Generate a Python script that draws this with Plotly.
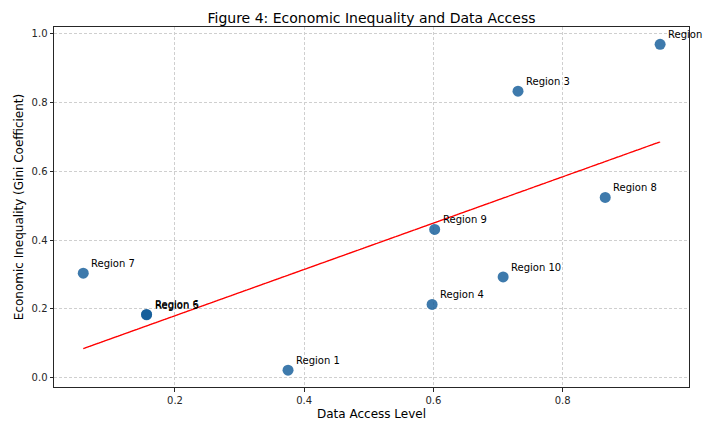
import numpy as np
import plotly.graph_objects as go

regions = ["Region 1", "Region 2", "Region 3", "Region 4", "Region 5",
           "Region 6", "Region 7", "Region 8", "Region 9", "Region 10"]
data_access = [0.375, 0.951, 0.731, 0.598, 0.156, 0.156, 0.058, 0.866, 0.602, 0.708]
gini = [0.022, 0.969, 0.833, 0.213, 0.183, 0.184, 0.304, 0.524, 0.431, 0.293]

font = "DejaVu Sans"

# least-squares trend line through the points
slope, intercept = np.polyfit(data_access, gini, 1)
x_arr = np.array(data_access)
trend = slope * x_arr + intercept

fig = go.Figure()
fig.add_trace(go.Scatter(
    x=data_access, y=gini, mode="markers",
    marker=dict(size=11, color="#0e5997", opacity=0.8, line=dict(width=0)),
    showlegend=False, hoverinfo="x+y",
))
fig.add_trace(go.Scatter(
    x=x_arr, y=trend, mode="lines",
    line=dict(color="red", width=1.3, dash="4px,1px"),
    showlegend=False, hoverinfo="skip",
))

for name, xv, yv in zip(regions, data_access, gini):
    fig.add_annotation(
        x=xv, y=yv, text=name, showarrow=False,
        xanchor="left", yanchor="bottom", xshift=6, yshift=2,
        font=dict(family=font, size=10, color="black"),
    )

axis_common = dict(
    showline=True, linecolor="#262626", linewidth=1, mirror=True,
    showgrid=True, gridcolor="#cfcfcf", griddash="3px,2px", gridwidth=0.8,
    ticks="outside", ticklen=3.5, tickcolor="#262626",
    tickfont=dict(family=font, size=10, color="#262626"),
    zeroline=False, automargin=False,
)

fig.update_layout(
    template="none",
    width=704, height=421,
    margin=dict(l=54, r=15, t=27, b=34),
    paper_bgcolor="white", plot_bgcolor="white",
    title=dict(text="Figure 4: Economic Inequality and Data Access",
               x=0.5, xref="paper", xanchor="center",
               y=1, yref="paper", yanchor="bottom",
               pad=dict(b=4),
               font=dict(family=font, size=14, color="black")),
    xaxis=dict(range=[0.0127, 0.9957], tickvals=[0.2, 0.4, 0.6, 0.8],
               ticktext=["0.2", "0.4", "0.6", "0.8"],
               title=dict(text="Data Access Level", standoff=6,
                          font=dict(family=font, size=12, color="black")),
               **axis_common),
    yaxis=dict(range=[-0.027, 1.0195], tickvals=[0.0, 0.2, 0.4, 0.6, 0.8, 1.0],
               ticktext=["0.0", "0.2", "0.4", "0.6", "0.8", "1.0"],
               title=dict(text="Economic Inequality (Gini Coefficient)", standoff=5,
                          font=dict(family=font, size=12, color="black")),
               **axis_common),
)

fig.write_html("out.html")
